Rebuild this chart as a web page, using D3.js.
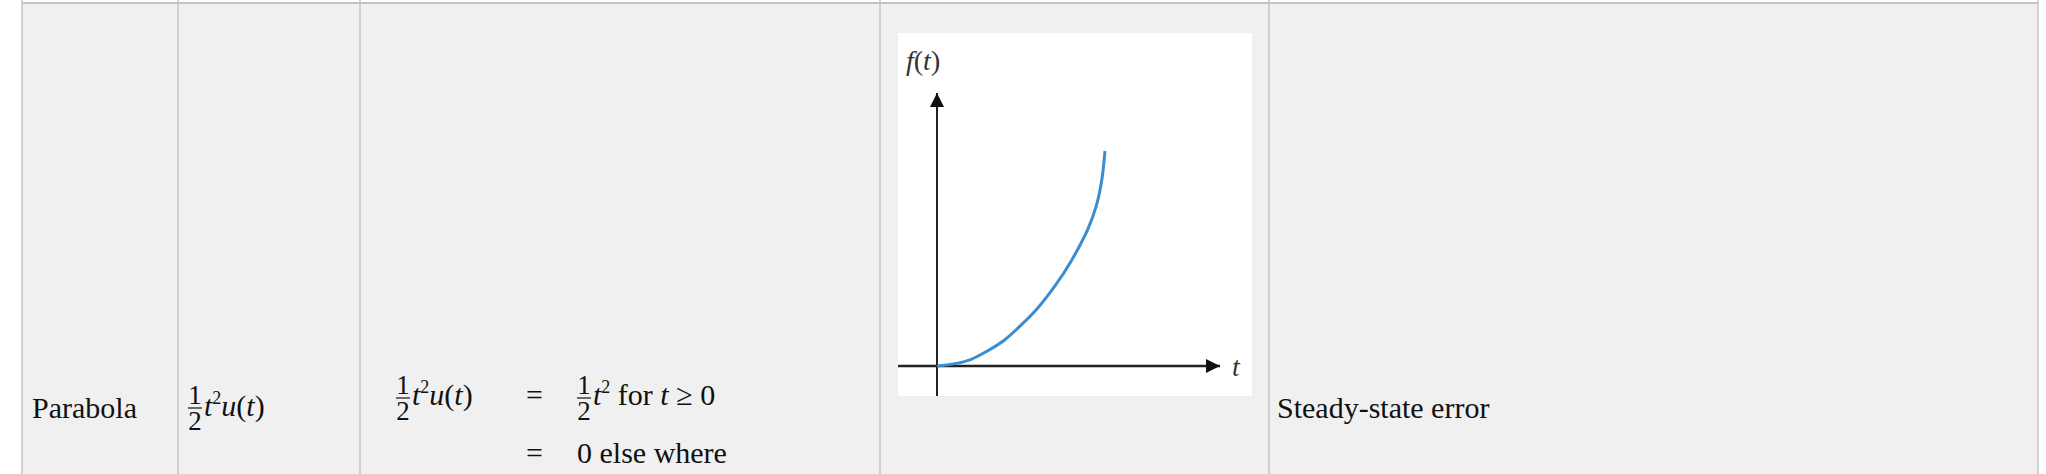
<!DOCTYPE html>
<html><head><meta charset="utf-8">
<script src="https://cdn.jsdelivr.net/npm/d3@7"></script>
<style>body{margin:0;background:#fff;}svg{display:block;}</style>
</head><body>
<script>
const curveT = [0,0.1,0.2,0.3,0.4,0.5,0.6,0.7,0.8,0.9,0.95,0.98,1.0];
const curveF = [0,0.01,0.03,0.07,0.12,0.19,0.27,0.37,0.49,0.64,0.75,0.86,1.0];
const columnEdges = [22,178,360,880,1269,2038];
const fontSerif = "'Liberation Serif','DejaVu Serif',serif";

const W=2046,H=474;
const svg=d3.select("body").append("svg").attr("width",W).attr("height",H);
svg.append("rect").attr("width",W).attr("height",H).attr("fill","#fff");
svg.append("rect").attr("x",22).attr("y",3).attr("width",2016).attr("height",H).attr("fill","#f0f0f0");
svg.append("line").attr("x1",22).attr("x2",2038).attr("y1",3).attr("y2",3).attr("stroke","#c4c4c4").attr("stroke-width",2);
columnEdges.forEach(x=>svg.append("line").attr("x1",x).attr("x2",x).attr("y1",0).attr("y2",H).attr("stroke","#c4c4c4").attr("stroke-width",1.5));

function txt(x,y,s,size,opts={}){
  const t=svg.append("text").attr("x",x).attr("y",y).attr("font-family",fontSerif).attr("font-size",size).attr("fill","#111");
  if(s) t.text(s);
  if(opts.italic) t.attr("font-style","italic");
  if(opts.anchor) t.attr("text-anchor",opts.anchor);
  return t;
}
function frac(x,yBar,size){
  txt(x+7,yBar-4,"1",size,{anchor:"middle"});
  svg.append("line").attr("x1",x).attr("x2",x+14).attr("y1",yBar).attr("y2",yBar).attr("stroke","#111").attr("stroke-width",1.2);
  txt(x+7,yBar+size*0.8,"2",size,{anchor:"middle"});
}
function tu(x,y,size){
  const t=txt(x,y,"",size);
  t.append("tspan").attr("font-style","italic").text("t");
  t.append("tspan").attr("font-size",size*0.6).attr("dy",-size*0.4).text("2");
  t.append("tspan").attr("dy",size*0.4).attr("font-style","italic").text("u");
  t.append("tspan").text("(");
  t.append("tspan").attr("font-style","italic").text("t");
  t.append("tspan").text(")");
}
txt(32,418,"Parabola",30);
frac(188,408,27); tu(204,416,30);
frac(396,398,27); tu(412,405,30);
txt(526,405,"=",30);
frac(577,398,27);
const t2=txt(593,405,"",30);
t2.append("tspan").attr("font-style","italic").text("t");
t2.append("tspan").attr("font-size",18).attr("dy",-12).text("2");
t2.append("tspan").attr("dy",12).text(" for ");
t2.append("tspan").attr("font-style","italic").text("t");
t2.append("tspan").text(" \u2265 0");
txt(526,463,"=",30);
txt(577,463,"0 else where",30);
txt(1277,418,"Steady-state error",30);

// plot
svg.append("rect").attr("x",898).attr("y",33).attr("width",354).attr("height",363).attr("fill","#fff");
const x=d3.scaleLinear().domain([0,1]).range([937,1105]);
const y=d3.scaleLinear().domain([0,1]).range([366,151]);
const defs=svg.append("defs");
defs.append("marker").attr("id","ar").attr("viewBox","0 0 10 10").attr("refX",10).attr("refY",5)
 .attr("markerWidth",30).attr("markerHeight",14).attr("markerUnits","userSpaceOnUse").attr("orient","auto")
 .append("path").attr("d","M0,0L10,5L0,10Z").attr("fill","#111");
svg.append("line").attr("x1",898).attr("x2",1220).attr("y1",y(0)).attr("y2",y(0)).attr("stroke","#222").attr("stroke-width",2.5).attr("marker-end","url(#ar)");
svg.append("line").attr("x1",x(0)).attr("x2",x(0)).attr("y1",396).attr("y2",93).attr("stroke","#222").attr("stroke-width",2).attr("marker-end","url(#ar)");
const line=d3.line().x((d,i)=>x(curveT[i])).y(d=>y(d)).curve(d3.curveCatmullRom.alpha(0.5));
svg.append("path").attr("d",line(curveF)).attr("fill","none").attr("stroke","#3a8dd0").attr("stroke-width",3);
txt(1232,376,"t",28,{italic:true}).attr("fill","#333");
const ft=txt(906,70,"",28).attr("fill","#333");
ft.append("tspan").attr("font-style","italic").text("f");
ft.append("tspan").text("(");
ft.append("tspan").attr("font-style","italic").text("t");
ft.append("tspan").text(")");
</script>
</body></html>
